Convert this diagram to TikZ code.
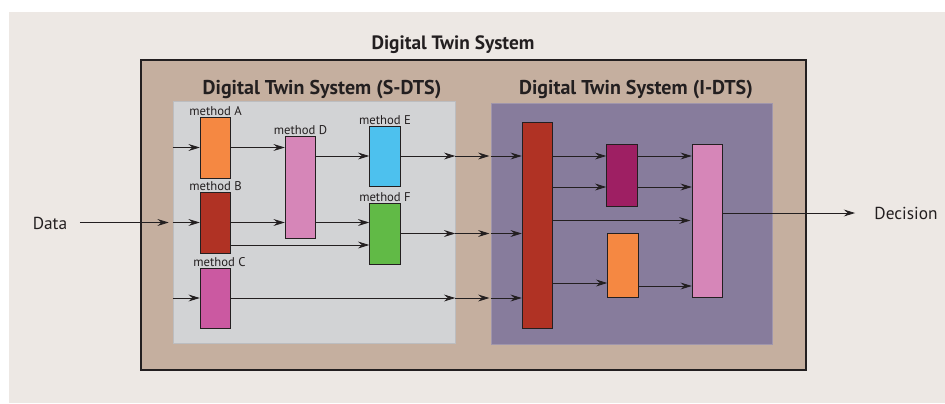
\documentclass[tikz,border=0pt]{standalone}
\usepackage{fontspec}
\setmainfont{PT Sans}
\usetikzlibrary{arrows.meta,calc}

\definecolor{paper}{RGB}{237,232,228}
\definecolor{tan}{RGB}{197,175,159}
\definecolor{sgray}{RGB}{210,211,213}
\definecolor{sedge}{RGB}{188,189,192}
\definecolor{ipurple}{RGB}{135,124,156}
\definecolor{iedge}{RGB}{160,150,172}
\definecolor{ink}{RGB}{35,31,32}
\definecolor{morange}{RGB}{245,136,66}
\definecolor{mred}{RGB}{176,50,36}
\definecolor{mmagenta}{RGB}{203,89,161}
\definecolor{mpink}{RGB}{214,134,184}
\definecolor{mcyan}{RGB}{77,193,238}
\definecolor{mgreen}{RGB}{97,186,70}
\definecolor{mplum}{RGB}{158,31,99}

\tikzset{
  method/.style={draw=ink, line width=0.6pt, inner sep=0pt, minimum width=23pt},
  mlabel/.style={font=\fontsize{9.5}{10}\selectfont, text=ink, inner sep=0.5pt},
  title/.style={font=\fontsize{15}{17}\selectfont\bfseries, text=ink},
  endtext/.style={font=\fontsize{13}{15}\selectfont, text=ink},
  flow/.style={draw=ink, line width=0.6pt, -{Stealth[length=8.5pt,width=5.2pt,inset=3pt]}},
}

\begin{document}
\begin{tikzpicture}[x=0.75pt,y=0.75pt,yscale=-1,xscale=1]
\useasboundingbox (0,0) rectangle (945,403);

%paper
\fill[paper] (9,12) rectangle (945,403);

%Outer box
\node[draw=ink, line width=1.6pt, fill=tan, minimum width=498.75pt, minimum height=232.5pt] (dts) at (473.5,215) {};
\node[title, font=\fontsize{14.5}{17}\selectfont\bfseries] (dtstitle) at (453,45) {Digital Twin System};

%S-DTS and I-DTS areas
\node[draw=sedge, fill=sgray, minimum width=211.5pt, minimum height=181.5pt] (sdts) at (314,222) {};
\node[title] (sdtstitle) at (322,90) {Digital Twin System (S-DTS)};
\node[draw=iedge, fill=ipurple, minimum width=210.75pt, minimum height=180.75pt] (idts) at (631.5,223.5) {};
\node[title] (idtstitle) at (636,90) {Digital Twin System (I-DTS)};

%Methods
\node[method, fill=morange, minimum height=45.75pt] (A) at (215.5,147.5) {};
\node[method, fill=mred, minimum height=45.75pt] (B) at (215.5,222.5) {};
\node[method, fill=mmagenta, minimum height=45pt] (C) at (215.5,298) {};
\node[method, fill=mpink, minimum height=76.5pt] (D) at (300.5,187) {};
\node[method, fill=mcyan, minimum height=45pt] (E) at (385,156) {};
\node[method, fill=mgreen, minimum height=45.75pt] (F) at (385,233.5) {};
\node[mlabel, above=0pt] at (A.north) {method A};
\node[mlabel, above=0pt] at (B.north) {method B};
\node[mlabel, above=0pt, xshift=3pt] at (C.north) {method C};
\node[mlabel, above=0pt] at (D.north) {method D};
\node[mlabel, above=0pt] at (E.north) {method E};
\node[mlabel, above=0pt] at (F.north) {method F};

%I-DTS blocks
\node[method, fill=mred, minimum height=154.5pt] (R) at (537.5,225) {};
\node[method, fill=mplum, minimum height=46.5pt] (P) at (622,175) {};
\node[method, fill=morange, minimum height=48pt] (O) at (623,265) {};
\node[method, fill=mpink, minimum height=114.75pt] (K) at (707.5,220.5) {};

%In and out
\node[endtext] (data) at (50,223) {Data};
\node[endtext] (decision) at (906,213) {Decision};

%rows
\coordinate (bf) at (0,245);
\coordinate (rp) at (0,187);
\coordinate (ro) at (0,283);
\coordinate (ok) at (0,286);
\coordinate (kd) at (0,213);

%S-DTS arrows
\draw[flow, shorten <=6pt, shorten >=3pt] (data.east |- B) -- (sdts.west |- B);
\draw[flow] (sdts.west |- A) -- (A.west);
\draw[flow] (sdts.west |- B) -- (B.west);
\draw[flow] (sdts.west |- C) -- (C.west);
\draw[flow] (A.east) -- (D.west |- A);
\draw[flow] (B.east) -- (D.west |- B);
\draw[flow] (D.east |- E) -- (E.west);
\draw[flow] (D.east |- B) -- (F.west |- B);
\draw[flow] (B.east |- bf) -- (F.west |- bf);
\draw[flow] (E.east) -- (sdts.east |- E);
\draw[flow] (F.east) -- (sdts.east |- F);
\draw[flow] (C.east) -- (sdts.east |- C);

%between the two
\draw[flow, shorten >=1pt] (sdts.east |- E) -- (idts.west |- E);
\draw[flow, shorten >=1pt] (sdts.east |- F) -- (idts.west |- F);
\draw[flow, shorten >=1pt] (sdts.east |- C) -- (idts.west |- C);
\draw[flow] (idts.west |- E) -- (R.west |- E);
\draw[flow] (idts.west |- F) -- (R.west |- F);
\draw[flow] (idts.west |- C) -- (R.west |- C);

%I-DTS arrows
\draw[flow] (R.east |- E) -- (P.west |- E);
\draw[flow] (R.east |- rp) -- (P.west |- rp);
\draw[flow] (P.east |- E) -- (K.west |- E);
\draw[flow] (P.east |- rp) -- (K.west |- rp);
\draw[flow, shorten >=1pt] (R.east |- K) -- (K.west);
\draw[flow] (R.east |- ro) -- (O.west |- ro);
\draw[flow] (O.east |- ok) -- (K.west |- ok);
\draw[flow, shorten >=11pt] (K.east |- kd) -- (decision.west);

\end{tikzpicture}
\end{document}
